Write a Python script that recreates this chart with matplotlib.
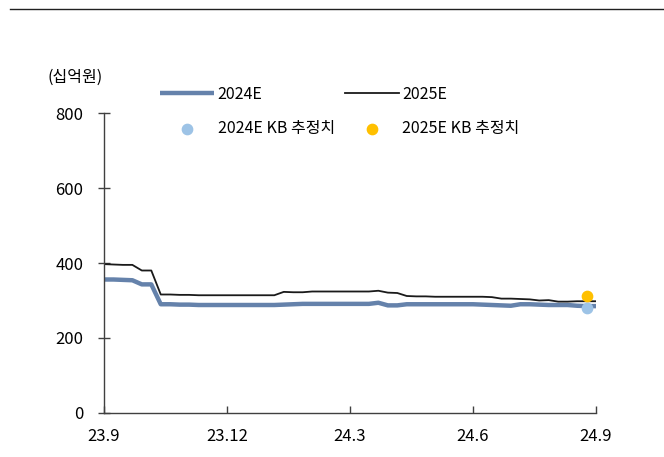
import numpy as np
import matplotlib.pyplot as plt
from matplotlib.lines import Line2D

plt.rcParams['font.family'] = ['Noto Sans CJK KR', 'DejaVu Sans']

# 주간 컨센서스 (십억원), 23.9 ~ 24.9
est_2024 = [356, 356, 355, 354, 343, 343, 290, 290, 289, 289, 288, 288, 288, 288,
            288, 288, 288, 288, 288, 289, 290, 291, 291, 291, 291, 291, 291, 291,
            291, 294, 287, 287, 290, 290, 290, 290, 290, 290, 290, 290, 289, 288,
            287, 286, 290, 290, 289, 288, 288, 288, 286, 285, 285]
est_2025 = [397, 396, 395, 395, 380, 380, 316, 316, 315, 315, 314, 314, 314, 314,
            314, 314, 314, 314, 314, 323, 322, 322, 324, 324, 324, 324, 324, 324,
            324, 326, 321, 320, 312, 311, 311, 310, 310, 310, 310, 310, 310, 309,
            305, 305, 304, 303, 300, 301, 297, 297, 298, 298, 298]
kb_2024 = 281
kb_2025 = 313
kb_week = 51

tick_pos = [0, 13, 26, 39, 52]
tick_labels = ['23.9', '23.12', '24.3', '24.6', '24.9']

weeks = np.arange(len(est_2024))

fig = plt.figure(figsize=(6.64, 4.57), dpi=100)
ax = fig.add_axes([0.1566, 0.0963, 0.741, 0.6564])

l24, = ax.plot(weeks, est_2024, color='#6582ab', lw=3.2, solid_capstyle='butt', label='2024E')
l25, = ax.plot(weeks, est_2025, color='#1a1a1a', lw=1.3, label='2025E')
d24 = ax.scatter([kb_week], [kb_2024], s=55, color='#9dc3e6', zorder=5, label='2024E KB 추정치')
d25 = ax.scatter([kb_week], [kb_2025], s=55, color='#ffc000', zorder=5, label='2025E KB 추정치')

ax.set_xlim(0, 52)
ax.set_ylim(0, 800)
ax.set_yticks([0, 200, 400, 600, 800])
ax.set_xticks(tick_pos)
ax.set_xticklabels(tick_labels)

for s in ['top', 'right']:
    ax.spines[s].set_visible(False)
for s in ['left', 'bottom']:
    ax.spines[s].set_color('#404040')
    ax.spines[s].set_linewidth(1.0)
ax.tick_params(axis='y', direction='inout', length=8, width=1, color='#404040',
               labelsize=12, pad=11)
ax.tick_params(axis='x', direction='in', length=5, width=1, color='#404040',
               labelsize=12, pad=11)

ax.legend(handles=[l24, d24, l25, d25], ncol=2, frameon=False, fontsize=11.5,
          loc='upper left', bbox_to_anchor=(0.101, 1.113), handlelength=3.4,
          handletextpad=0.2, columnspacing=0.62, labelspacing=1.1,
          scatterpoints=1, borderaxespad=0)

fig.text(47 / 664, 1 - 77 / 457, '(십억원)', fontsize=11.5, va='center', ha='left')
fig.add_artist(Line2D([10 / 664, 1], [1 - 9 / 457, 1 - 9 / 457], color='#202020', lw=1.0))

fig.savefig('out.png', dpi=100)
